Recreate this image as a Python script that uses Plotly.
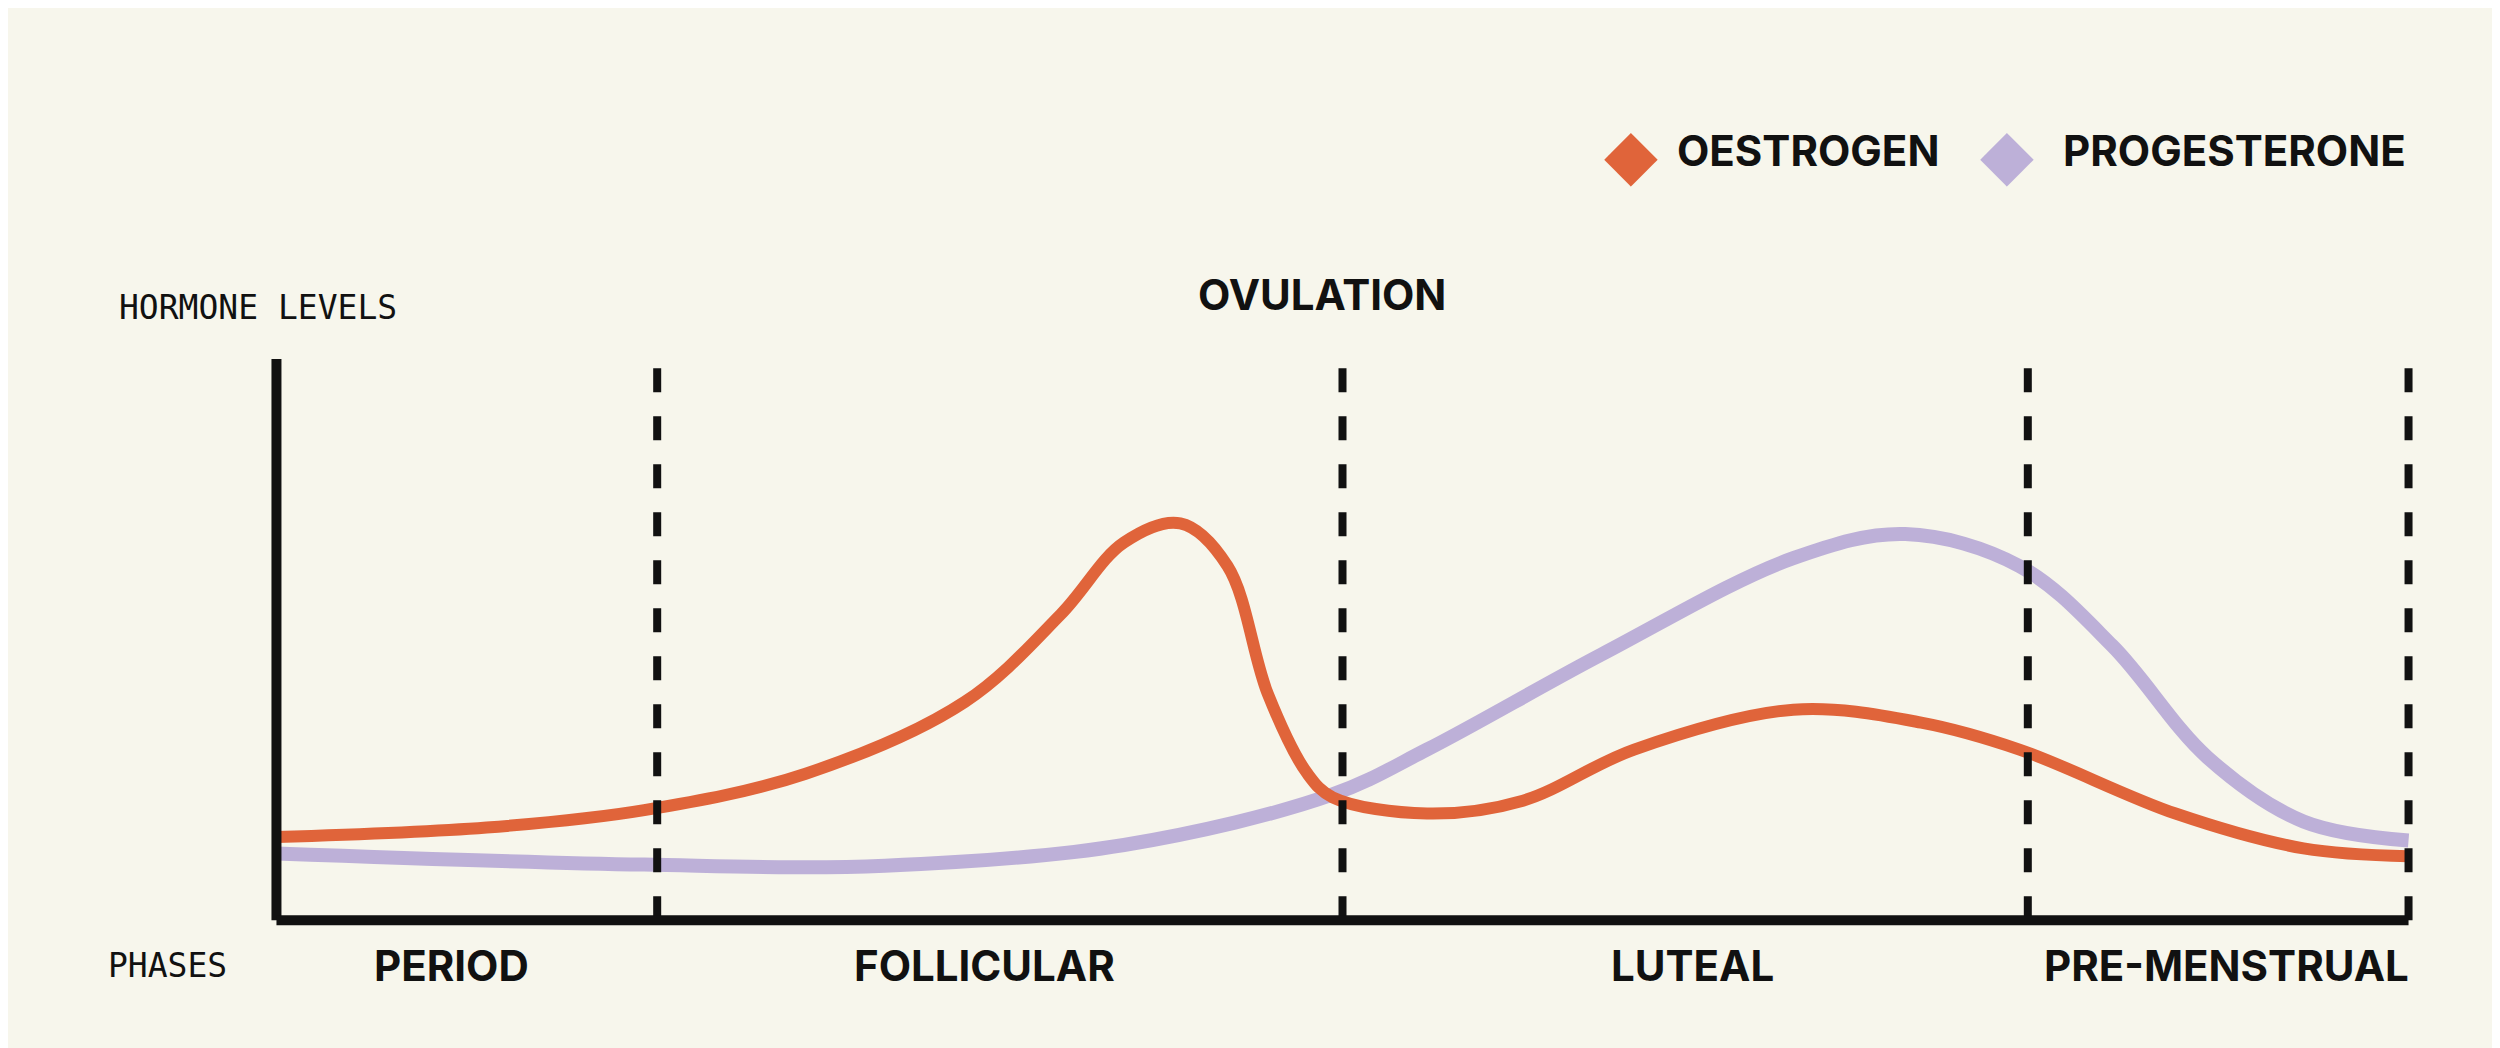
import plotly.graph_objects as go

W, H = 2500, 1048
L, R, T, B = 268, 2401, 351, 912
PAD_X, PAD_Y = 0.4, 3  # extra range so thick axis strokes are not clipped

# day of cycle vs relative hormone level
oest_day = [0, 2.76, 4.83, 6.95, 9.04, 10.3, 11.13, 11.87, 12.49, 13.02, 13.54, 13.87,
            15.11, 16.37, 17.83, 19.92, 21.6, 22.89, 24.94, 26.62, 28]
oest_val = [14.8, 16.5, 19.6, 26.1, 38.9, 54.5, 67.3, 70.7, 63.1, 40.3, 26.1, 21.9,
            19.0, 21.3, 30.4, 37.5, 35.2, 30.4, 19.0, 12.8, 11.4]
prog_day = [0, 4.83, 7.99, 11.13, 13.87, 15.11, 17.41, 19.92, 21.39, 22.89, 24.11,
            25.36, 26.62, 28]
prog_val = [11.9, 9.9, 9.7, 13.4, 22.4, 30.4, 47.4, 64.5, 68.8, 63.1, 48.9, 29.0, 17.6, 14.2]

phase_bounds = [5, 14, 23, 28]
phase_names = ["PERIOD", "FOLLICULAR", "LUTEAL", "PRE-MENSTRUAL"]
phase_px = [443, 976, 1685, 2219]

ORANGE = "#E0643A"
LAVENDER = "#BDB0D8"
BG = "#F7F6EC"
BOLD = "Inter"
MONO = "DejaVu Sans Mono"

px_day = (R - L) / 28
px_unit = (B - T) / 100
ml = L - PAD_X * px_day
mr = W - R - PAD_X * px_day
mb = H - B - PAD_Y * px_unit
pl, pr, pb, pt = ml, W - mr, H - mb, T

fig = go.Figure()
fig.add_trace(go.Scatter(x=prog_day, y=prog_val, mode="lines",
                         line=dict(color=LAVENDER, width=14, shape="spline", smoothing=1.0)))
fig.add_trace(go.Scatter(x=oest_day, y=oest_val, mode="lines",
                         line=dict(color=ORANGE, width=12, shape="spline", smoothing=1.0)))

# dashed phase boundaries
for d in phase_bounds:
    fig.add_shape(type="line", x0=d, x1=d, y0=0, y1=100, xref="x", yref="y",
                  line=dict(color="#111111", width=8, dash="dash"), layer="above")

# axes
fig.add_shape(type="line", x0=0, x1=0, y0=0, y1=100, xref="x", yref="y",
              line=dict(color="#111111", width=10))
fig.add_shape(type="line", x0=0, x1=28, y0=0, y1=0, xref="x", yref="y",
              line=dict(color="#111111", width=10))


def pos(x, y):
    return (x - pl) / (pr - pl), (H - y - mb) / (pb - pt)


ann = []


def label(text, x, y, font, anchor="center"):
    ax, ay = pos(x, y)
    ann.append(dict(text=text, x=ax, y=ay, xref="paper", yref="paper", showarrow=False,
                    xanchor=anchor, yanchor="middle", font=font))


mono = dict(family=MONO, size=33, color="#111111")
bold = dict(family=BOLD, size=42, color="#111111")
label("HORMONE LEVELS", 108, 300, mono, "left")
label("PHASES", 159, 957, mono)
label("<b>OVULATION</b>", 1314, 287, bold)
for name, x in zip(phase_names, phase_px):
    label("<b>%s</b>" % name, x, 957, bold)
# legend
label("◆", 1623, 143, dict(size=70, color=ORANGE))
label("<b>OESTROGEN</b>", 1667, 143, bold, "left")
label("◆", 1999, 143, dict(size=70, color=LAVENDER))
label("<b>PROGESTERONE</b>", 2053, 143, bold, "left")

fig.update_layout(
    width=W, height=H, showlegend=False,
    paper_bgcolor=BG, plot_bgcolor=BG,
    margin=dict(l=ml, r=mr, t=T, b=mb),
    xaxis=dict(range=[-PAD_X, 28 + PAD_X], visible=False, fixedrange=True),
    yaxis=dict(range=[-PAD_Y, 100], visible=False, fixedrange=True),
    annotations=ann,
)

fig.write_html("out.html")
